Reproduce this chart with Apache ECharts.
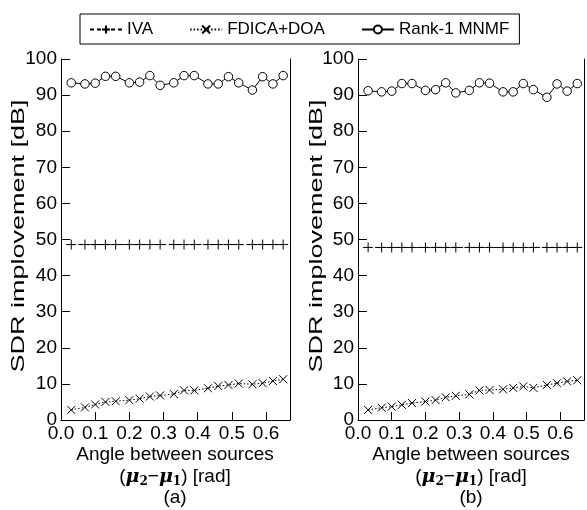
<!DOCTYPE html>
<html><head><meta charset="utf-8">
<script src="https://cdn.jsdelivr.net/npm/echarts@6/dist/echarts.min.js"></script>
<style>html,body{margin:0;padding:0;background:#fff}#c{width:587px;height:510px}</style>
</head><body><div id="c"></div>
<script>
const xA = [0.03,0.07,0.10,0.13,0.16,0.20,0.23,0.26,0.29,0.33,0.36,0.39,0.43,0.46,0.49,0.52,0.56,0.59,0.62,0.65];
const xB = [0.03,0.07,0.10,0.13,0.16,0.20,0.23,0.26,0.29,0.33,0.36,0.39,0.43,0.46,0.49,0.52,0.56,0.59,0.62,0.65];
const ivaA = [48.6,48.6,48.6,48.6,48.6,48.6,48.6,48.6,48.6,48.6,48.6,48.6,48.6,48.6,48.6,48.6,48.6,48.6,48.6,48.6];
const fdicaA = [2.8,3.5,4.3,5.0,5.2,5.5,5.9,6.5,6.8,7.2,8.2,8.2,8.8,9.4,9.7,10.1,9.9,10.2,10.8,11.3];
const mnmfA = [93.4,93.1,93.3,95.2,95.2,93.4,93.6,95.4,92.7,93.4,95.4,95.4,93.1,93.1,95.1,93.4,91.4,95.1,93.1,95.4];
const ivaB = [47.8,47.8,47.8,47.8,47.8,47.8,47.8,47.8,47.8,47.8,47.8,47.8,47.8,47.8,47.8,47.8,47.8,47.8,47.8,47.8];
const fdicaB = [2.8,3.4,3.7,4.2,4.7,5.1,5.5,6.3,6.7,7.1,8.2,8.3,8.5,8.9,9.3,8.9,9.7,10.2,10.7,11.0];
const mnmfB = [91.2,90.9,91.1,93.2,93.2,91.3,91.5,93.4,90.6,91.3,93.4,93.3,90.9,90.9,93.2,91.5,89.4,93.1,91.1,93.2];
const xTicks = ['0.0','0.1','0.2','0.3','0.4','0.5','0.6'];
const yName = 'SDR implovement [dB]';
const xName = 'Angle between sources';
const names = ['IVA','FDICA+DOA','Rank-1 MNMF'];
const captions = ['(a)','(b)'];

const FONT = 'Liberation Sans, Arial, sans-serif';
const plus = 'path://M0,5L10,5M5,0L5,10';
const cross = 'path://M0,0L10,10M0,10L10,0';
const zip = (xs, ys) => xs.map((x, i) => [x, ys[i]]);

function mkSeries(g, iva, fd, mn, xs) {
  return [
    {name: names[0], type: 'line', xAxisIndex: g, yAxisIndex: g*2, data: zip(xs, iva),
     symbol: plus, symbolSize: 10, showSymbol: true,
     lineStyle: {color: '#000', width: 1, type: [4, 3]},
     itemStyle: {color: 'rgba(0,0,0,0)', borderColor: '#000', borderWidth: 1}},
    {name: names[1], type: 'line', xAxisIndex: g, yAxisIndex: g*2, data: zip(xs, fd),
     symbol: cross, symbolSize: 8,
     lineStyle: {color: '#000', width: 1, type: [1.5, 2]},
     itemStyle: {color: 'rgba(0,0,0,0)', borderColor: '#000', borderWidth: 1}},
    {name: names[2], type: 'line', xAxisIndex: g, yAxisIndex: g*2, data: zip(xs, mn),
     symbol: 'circle', symbolSize: 8.5,
     lineStyle: {color: '#000', width: 1},
     itemStyle: {color: '#fff', borderColor: '#000', borderWidth: 1}}
  ];
}

function mkX(g) {
  return {
    type: 'value', gridIndex: g, min: 0, max: 0.67, interval: 0.1,
    axisLine: {lineStyle: {color: '#000', width: 1}},
    axisTick: {inside: true, length: 8, lineStyle: {color: '#000'}},
    splitLine: {show: false},
    axisLabel: {color: '#000', fontSize: 19, fontFamily: FONT, margin: 4,
      formatter: v => { const i = Math.round(v*10); return Math.abs(v*10 - i) < 1e-6 && i < xTicks.length ? xTicks[i] : ''; }}
  };
}
function mkY(g) {
  return [{
    type: 'value', gridIndex: g, min: 0, max: 100, interval: 10,
    axisLine: {show: true, lineStyle: {color: '#000', width: 1}},
    axisTick: {show: true, inside: true, length: 9, lineStyle: {color: '#000'}},
    splitLine: {show: false},
    axisLabel: {color: '#000', fontSize: 19, fontFamily: FONT, margin: 4}
  }, {
    type: 'value', gridIndex: g, min: 0, max: 100, position: 'right',
    axisLine: {show: true, onZero: false, lineStyle: {color: '#000', width: 1}},
    axisTick: {show: false}, axisLabel: {show: false}, splitLine: {show: false}
  }];
}

const capRich = {
  t: {fontSize: 19, fontFamily: FONT, color: '#000', lineHeight: 22},
  m: {fontSize: 19, fontFamily: 'DejaVu Serif', fontWeight: 'bold', fontStyle: 'italic', color: '#000', lineHeight: 22},
  s: {fontSize: 12, fontFamily: 'DejaVu Serif', fontWeight: 'bold', color: '#000', verticalAlign: 'bottom', lineHeight: 22}
};
function texts(cx, letter, yx) {
  return [
    {type: 'text', x: cx, y: 455, style: {text: xName, font: '19px ' + FONT, fill: '#000', align: 'center', verticalAlign: 'middle'}},
    {type: 'text', x: cx, y: 477, style: {text: '{t|(}{m|μ}{s|2}{t|−}{m|μ}{s|1}{t|) [rad]}', rich: capRich, align: 'center', verticalAlign: 'middle'}},
    {type: 'text', x: cx, y: 498, style: {text: letter, font: '19px ' + FONT, fill: '#000', align: 'center', verticalAlign: 'middle'}},
    {type: 'text', x: yx, y: 236, rotation: Math.PI/2, scaleX: 1.42, scaleY: 1,
     style: {text: yName, font: '19px ' + FONT, fill: '#000', align: 'center', verticalAlign: 'middle'}}
  ];
}

const chart = echarts.init(document.getElementById('c'), null, {renderer: 'canvas'});
chart.setOption({
  animation: false,
  backgroundColor: '#fff',
  legend: {
    data: names, left: 80, top: 14, orient: 'horizontal',
    borderColor: '#000', borderWidth: 1, padding: [7, 10, 6, 9], itemGap: 36,
    itemWidth: 32, itemHeight: 10,
    textStyle: {color: '#000', fontSize: 17, fontFamily: FONT}
  },
  grid: [
    {left: 61, right: 297, top: 59, bottom: 90},
    {left: 358, right: 2, top: 59, bottom: 90}
  ],
  xAxis: [mkX(0), mkX(1)],
  yAxis: [...mkY(0), ...mkY(1)],
  series: [...mkSeries(0, ivaA, fdicaA, mnmfA, xA), ...mkSeries(1, ivaB, fdicaB, mnmfB, xB)],
  graphic: [...texts(175, captions[0], 19), ...texts(471, captions[1], 317)]
});
</script></body></html>
